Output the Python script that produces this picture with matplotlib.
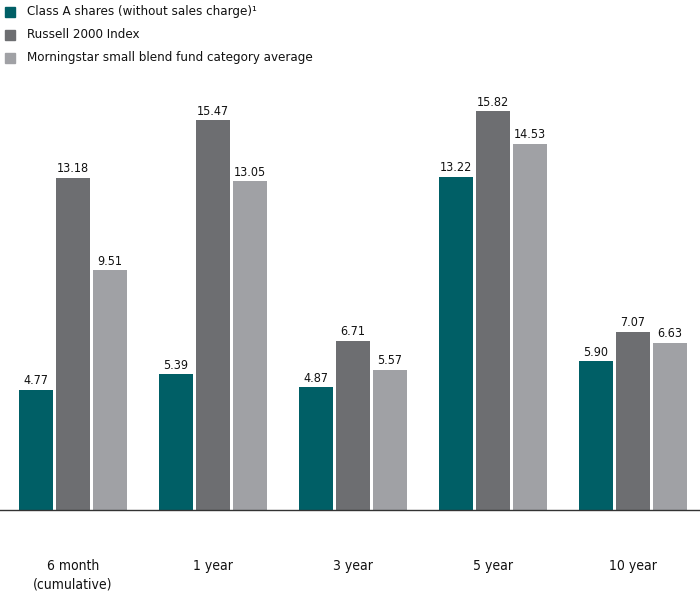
import matplotlib
matplotlib.use("Agg")
import matplotlib.pyplot as plt
import numpy as np
from matplotlib.patches import Rectangle

categories = ["6 month\n(cumulative)", "1 year", "3 year", "5 year", "10 year"]
series_names = ["Class A shares (without sales charge)\u00b9", "Russell 2000 Index",
                "Morningstar small blend fund category average"]
class_a = [4.77, 5.39, 4.87, 13.22, 5.90]
russell = [13.18, 15.47, 6.71, 15.82, 7.07]
morningstar = [9.51, 13.05, 5.57, 14.53, 6.63]
colors = ["#005f66", "#6d6e71", "#a0a1a5"]

plt.rcParams['font.family'] = ['DejaVu Sans']
plt.rcParams['font.stretch'] = 'condensed'

fig = plt.figure(figsize=(7.0, 5.94), dpi=100)
ax = fig.add_axes([0.0, 84/594, 1.0, 17*25.2/594])

x = np.arange(len(categories))
w = 34/140
off = 37/140
for vals, c, o in zip([class_a, russell, morningstar], colors, [-off, 0, off]):
    ax.bar(x + o, vals, width=w, color=c, linewidth=0)
    for xi, v in zip(x + o, vals):
        ax.text(xi, v + 0.1, f"{v:.2f}", ha="center", va="bottom", fontsize=9,
                color="#111111", fontstretch="condensed")

ax.set_xlim(-73/140, (700-73)/140)
ax.set_ylim(0, 17)
for s in ["top", "right", "left"]:
    ax.spines[s].set_visible(False)
ax.spines["bottom"].set_color("#333333")
ax.spines["bottom"].set_linewidth(1.0)
ax.set_yticks([])
ax.set_xticks(x)
ax.set_xticklabels(categories, fontsize=10, color="#111111", va="top", linespacing=1.4,
                   fontstretch="condensed")
ax.tick_params(axis="x", length=0, pad=35)

# legend
for i, (name, c) in enumerate(zip(series_names, colors)):
    y = 12 + i * 23
    fig.patches.append(Rectangle((5/700, 1 - (y + 5)/594), 10/700, 10/594,
                                 transform=fig.transFigure, color=c, figure=fig))
    fig.text(27/700, 1 - y/594, name, fontsize=9.5, va="center", ha="left",
             color="#111111", fontstretch="condensed")

fig.savefig("out.png", dpi=100)
